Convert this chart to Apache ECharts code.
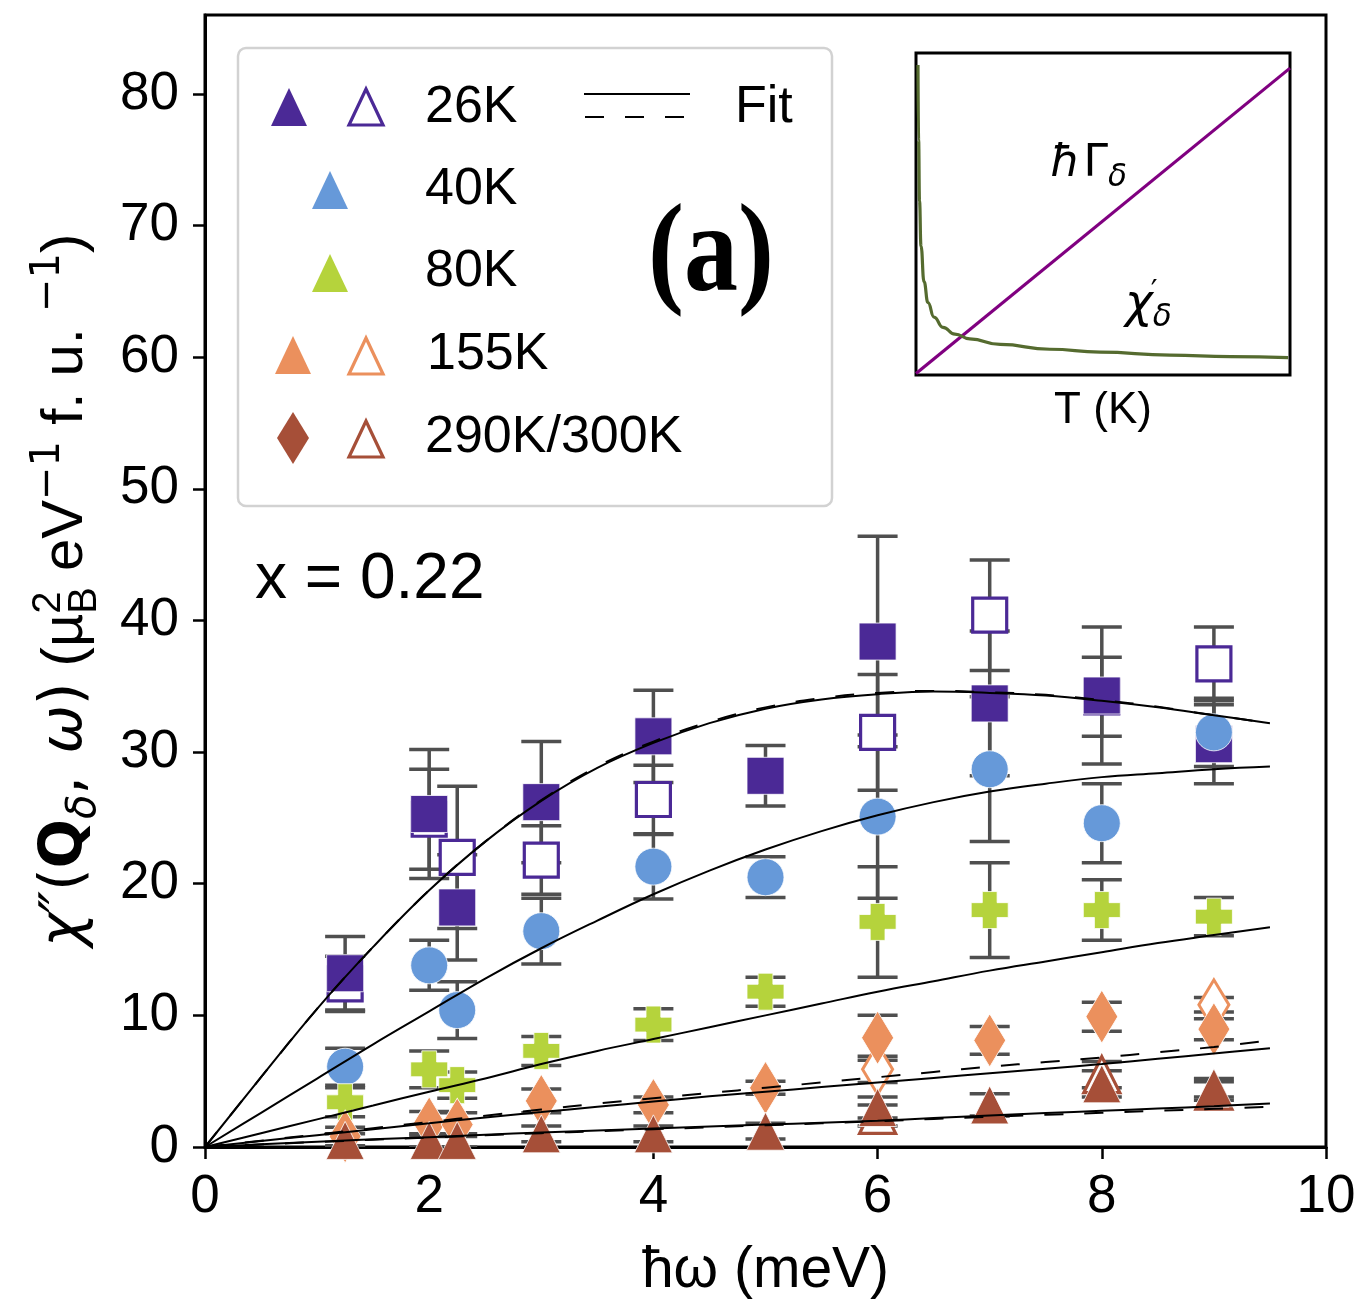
<!DOCTYPE html>
<html>
<head>
<meta charset="utf-8">
<script src="https://cdn.jsdelivr.net/npm/echarts@6/dist/echarts.min.js"></script>
<style>
  html, body { margin: 0; padding: 0; background: #fff; }
  #chart { width: 1363px; height: 1299px; }
</style>
</head>
<body>
<div id="chart"></div>
<script>
// ---- measured points: [ħω (meV), χ'' , error] ----
const k26Filled = [[1.25,13.2,2.8],[2,25.3,4.9],[2.25,18.2,4.0],[3,26.2,4.6],[4,31.2,3.5],[5,28.2,2.3],[6,38.4,8.0],[7,33.7,5.5],[8,34.3,5.2],[9,30.6,3.0]];
const k26Open   = [[1.25,12.4,2.1],[2,24.9,3.8],[2.25,22.0,5.4],[3,21.8,2.6],[4,26.4,2.6],[6,31.5,4.4],[7,40.4,4.2],[8,34.2,3.0],[9,36.7,2.8]];
const k40       = [[1.25,6.1,1.4],[2,13.8,1.9],[2.25,10.4,2.15],[3,16.4,2.5],[4,21.3,2.45],[5,20.5,1.55],[6,25.1,6.2],[7,28.7,5.5],[8,24.6,3.0],[9,31.5,2.6]];
const k80       = [[1.25,3.4,1.1],[2,5.9,1.4],[2.25,4.7,1.0],[3,7.3,1.1],[4,9.3,1.2],[5,11.8,1.1],[6,17.1,4.2],[7,18.0,3.6],[8,18.0,2.3],[9,17.5,1.45]];
const k155Filled = [[1.25,0.8,0.7],[2,1.8,0.9],[2.25,1.7,0.9],[3,3.5,0.9],[4,3.2,0.6],[5,4.5,0.5],[6,8.3,1.7],[7,8.1,1.05],[8,9.9,1.1],[9,8.95,0.8]];
const k155Open   = [[6,5.9,1.0],[9,10.8,0.55]];
const k290Filled = [[1.25,0.5,0.5],[2,0.5,0.5],[2.25,0.5,0.5],[3,1.0,0.6],[4,1.0,0.6],[5,1.2,0.6],[6,3.0,0.8],[7,3.2,0.85],[8,4.8,1.0],[9,4.5,0.7]];
const k290Open   = [[6,2.4,0.8],[8,5.5,1.0],[9,4.25,0.7]];

// ---- fit curves, sampled along ħω ----
const fitOmega = [0,0.5,1,1.5,2,2.5,3,3.5,4,4.5,5,5.5,6,6.5,7,7.5,8,8.5,9,9.5];
const fit26     = [0,5.3,10.5,15.2,19.5,23.2,26.3,28.8,30.7,32.2,33.3,34.0,34.4,34.6,34.5,34.3,33.9,33.4,32.8,32.2];
const fit26Dash = [0,5.3,10.5,15.2,19.5,23.2,26.35,28.9,30.8,32.3,33.4,34.1,34.5,34.65,34.55,34.35,33.95,33.45,32.8,32.2];
const fit40     = [0,2.6,5.2,7.8,10.3,12.8,15.1,17.2,19.2,21.0,22.6,24.0,25.2,26.2,27.0,27.6,28.1,28.4,28.7,28.9];
const fit80     = [0,1.05,2.1,3.15,4.2,5.2,6.3,7.3,8.2,9.1,10.0,10.9,11.8,12.6,13.4,14.1,14.8,15.5,16.1,16.7];
const fit155     = [0,0.45,0.9,1.35,1.8,2.25,2.65,3.05,3.45,3.85,4.2,4.55,4.9,5.25,5.6,5.95,6.3,6.7,7.1,7.5];
const fit155Dash = [0,0.48,0.95,1.43,1.9,2.38,2.85,3.3,3.7,4.1,4.5,4.9,5.3,5.7,6.1,6.45,6.8,7.2,7.6,8.1];
const fit290     = [0,0.2,0.4,0.58,0.75,0.93,1.1,1.25,1.4,1.55,1.7,1.85,2.0,2.2,2.4,2.58,2.75,2.92,3.1,3.3];
const fit290Dash = [0,0.19,0.38,0.55,0.72,0.89,1.05,1.2,1.35,1.5,1.65,1.8,1.95,2.13,2.3,2.45,2.6,2.75,2.9,3.05];

// ---- axis ticks ----
const xTicks = [0,2,4,6,8,10];
const yTicks = [0,10,20,30,40,50,60,70,80];

// ---- inset sketch (arbitrary units) ----
const insetGammaT = [0, 1];
const insetGamma  = [0.005, 0.953];
const insetChiT = [0.0053,0.007,0.0094,0.0134,0.0214,0.032,0.048,0.072,0.104,0.144,0.225,0.358,0.492,0.679,0.840,0.995];
const insetChi  = [0.963,0.730,0.540,0.400,0.290,0.225,0.180,0.148,0.127,0.112,0.095,0.080,0.071,0.062,0.057,0.054];

const C26 = '#4b2996', C40 = '#6699d9', C80 = '#b5d33c', C155 = '#eb905d', C290 = '#a64f38';
const ERR = '#4f4f4f';
const SANS = '"Liberation Sans", Arial, sans-serif';
const MATH = '"DejaVu Sans", sans-serif';
const PLUS = 'path://M0.3,0H0.7V0.3H1V0.7H0.7V1H0.3V0.7H0V0.3H0.3Z';

const chart = echarts.init(document.getElementById('chart'), null, { renderer: 'canvas' });

function errorBars(data, z) {
  return {
    type: 'custom', data: data, z: z, silent: true, clip: true,
    encode: { x: 0, y: 1 },
    renderItem: function (params, api) {
      const x = api.value(0), y = api.value(1), e = api.value(2);
      const top = api.coord([x, y + e]), bot = api.coord([x, y - e]);
      const hw = 20;
      const style = { stroke: ERR, lineWidth: 3.5 };
      return { type: 'group', children: [
        { type: 'line', shape: { x1: top[0], y1: top[1], x2: bot[0], y2: bot[1] }, style: style },
        { type: 'line', shape: { x1: top[0] - hw, y1: top[1], x2: top[0] + hw, y2: top[1] }, style: style },
        { type: 'line', shape: { x1: bot[0] - hw, y1: bot[1], x2: bot[0] + hw, y2: bot[1] }, style: style }
      ] };
    }
  };
}
function points(data, symbol, size, color, open, z) {
  return {
    type: 'scatter', z: z, silent: true,
    data: data.map(d => [d[0], d[1]]),
    symbol: symbol, symbolSize: size,
    itemStyle: open
      ? { color: '#fff', borderColor: color, borderWidth: 3.2, opacity: 1 }
      : { color: color, borderColor: '#fff', borderWidth: 0.8, opacity: 1 }
  };
}
function fitLine(vals, dashed) {
  return {
    type: 'line', z: 20, silent: true, smooth: 0.4, symbol: 'none',
    data: fitOmega.map((w, i) => [w, vals[i]]),
    lineStyle: { color: '#000', width: 2, type: dashed ? [19, 21] : 'solid' }
  };
}

// pieces of mixed-font text laid out along one baseline
const mctx = document.createElement('canvas').getContext('2d');
function textRun(pieces, x0, y0, rotation) {
  let x = 0;
  const children = [];
  let pendingStack = 0;
  pieces.forEach(p => {
    mctx.font = p.f;
    const w = mctx.measureText(p.t).width;
    const size = parseFloat(p.f.match(/(\d+(\.\d+)?)px/)[1]);
    children.push({
      type: 'text', x: x + (p.dx || 0), y: (p.dy || 0) - 0.35 * size, z: 80,
      style: { text: p.t, font: p.f, fill: '#000', align: 'left', verticalAlign: 'middle' }
    });
    if (p.stack) { pendingStack = w; }
    else { x += Math.max(w, pendingStack) + (p.gap || 0); pendingStack = 0; }
  });
  return { type: 'group', x: x0, y: y0, rotation: rotation || 0, children: children, z: 80 };
}

function tri(cx, cy, w, h, color, open) {
  return {
    type: 'polygon', z: 60,
    shape: { points: [[cx, cy - h / 2], [cx + w / 2, cy + h / 2], [cx - w / 2, cy + h / 2]] },
    style: open ? { fill: '#fff', stroke: color, lineWidth: 3.2 } : { fill: color }
  };
}
function legText(t, x, baseline) {
  return { type: 'text', z: 60, x: x, y: baseline - 0.35 * 52,
    style: { text: t, font: '52px ' + SANS, fill: '#000', align: 'left', verticalAlign: 'middle' } };
}

const yLabel = textRun([
  { t: 'χ', f: 'italic 58px ' + MATH },
  { t: '″', f: 'italic 58px ' + MATH },
  { t: '(', f: '58px ' + MATH },
  { t: 'Q', f: 'bold 58px ' + MATH },
  { t: 'δ', f: 'italic 40px ' + MATH, dy: 13 },
  { t: ', ', f: '58px ' + MATH, gap: 4 },
  { t: 'ω', f: 'italic 58px ' + MATH },
  { t: ')', f: '58px ' + MATH },
  { t: ' (µ', f: '58px ' + SANS },
  { t: 'B', f: '40px ' + SANS, dy: 13, stack: true },
  { t: '2', f: '40px ' + SANS, dy: -23 },
  { t: ' eV', f: '58px ' + SANS },
  { t: '−1', f: '40px ' + MATH, dy: -23 },
  { t: ' f. u. ', f: '58px ' + SANS },
  { t: '−1', f: '40px ' + MATH, dy: -23 },
  { t: ')', f: '58px ' + SANS }
], 86, 947, Math.PI / 2);

const gammaLabel = textRun([
  { t: 'ħ', f: 'italic 44px ' + MATH, gap: 3 },
  { t: 'Γ', f: '44px ' + MATH },
  { t: 'δ', f: 'italic 31px ' + MATH, dy: 9 }
], 1050, 180);
const chiLabel = textRun([
  { t: 'χ', f: 'italic 47px ' + MATH },
  { t: '′', f: '30px ' + MATH, dy: -17, dx: -2, stack: true },
  { t: 'δ', f: 'italic 31px ' + MATH, dy: 8 }
], 1125, 321);

const option = {
  animation: false,
  backgroundColor: '#fff',
  grid: [
    { left: 205, top: 15, right: 37, bottom: 152, show: true, borderColor: '#000', borderWidth: 3,
      backgroundColor: 'transparent', containLabel: false, outerBoundsMode: 'none' },
    { left: 916, top: 53, width: 374, height: 322, show: true, borderColor: '#000', borderWidth: 3,
      backgroundColor: 'transparent', containLabel: false, outerBoundsMode: 'none' }
  ],
  xAxis: [
    {
      gridIndex: 0, type: 'value', min: 0, max: 10, interval: 2,
      name: 'ħω (meV)', nameLocation: 'middle', nameGap: 96,
      nameTextStyle: { fontFamily: SANS, fontSize: 57, color: '#000' },
      axisLine: { show: true, lineStyle: { color: '#000', width: 3 } },
      axisTick: { show: true, inside: false, length: 12, lineStyle: { color: '#000', width: 2.5 }, customValues: xTicks },
      axisLabel: { show: true, margin: 24, fontFamily: SANS, fontSize: 53, color: '#000', customValues: xTicks },
      splitLine: { show: false }
    },
    {
      gridIndex: 1, type: 'value', min: 0, max: 1,
      name: 'T (K)', nameLocation: 'middle', nameGap: 14,
      nameTextStyle: { fontFamily: SANS, fontSize: 44, color: '#000' },
      axisLine: { show: false }, axisTick: { show: false }, axisLabel: { show: false }, splitLine: { show: false }
    }
  ],
  yAxis: [
    {
      gridIndex: 0, type: 'value', min: 0, max: 86, interval: 10,
      axisLine: { show: true, lineStyle: { color: '#000', width: 3 } },
      axisTick: { show: true, inside: false, length: 12, lineStyle: { color: '#000', width: 2.5 }, customValues: yTicks },
      axisLabel: { show: true, margin: 26, fontFamily: SANS, fontSize: 53, color: '#000', customValues: yTicks },
      splitLine: { show: false }
    },
    {
      gridIndex: 1, type: 'value', min: 0, max: 1,
      axisLine: { show: false }, axisTick: { show: false }, axisLabel: { show: false }, splitLine: { show: false }
    }
  ],
  series: [
    errorBars(k26Open, 2), errorBars(k26Filled, 2), errorBars(k40, 2), errorBars(k80, 2),
    errorBars(k155Open, 2), errorBars(k155Filled, 2), errorBars(k290Open, 2), errorBars(k290Filled, 2),
    points(k26Open, 'rect', 34, C26, true, 3),
    points(k26Filled, 'rect', 37, C26, false, 4),
    points(k40, 'circle', 37, C40, false, 5),
    points(k80, PLUS, 37, C80, false, 6),
    points(k155Open, 'diamond', [30, 50], C155, true, 7),
    points(k155Filled, 'diamond', [32, 53], C155, false, 8),
    points(k290Open, 'triangle', [36, 36], C290, true, 9),
    points(k290Filled, 'triangle', [38, 38], C290, false, 10),
    fitLine(fit26, false), fitLine(fit26Dash, true),
    fitLine(fit40, false), fitLine(fit80, false),
    fitLine(fit155, false), fitLine(fit155Dash, true),
    fitLine(fit290, false), fitLine(fit290Dash, true),
    {
      type: 'line', xAxisIndex: 1, yAxisIndex: 1, z: 31, silent: true, symbol: 'none',
      data: insetGammaT.map((t, i) => [t, insetGamma[i]]),
      lineStyle: { color: '#800080', width: 3.2 }
    },
    {
      type: 'line', xAxisIndex: 1, yAxisIndex: 1, z: 31, silent: true, symbol: 'none',
      smooth: 0.5, smoothMonotone: 'x',
      data: insetChiT.map((t, i) => [t, insetChi[i]]),
      lineStyle: { color: '#556b2f', width: 3.2 }
    }
  ],
  graphic: [
    yLabel,
    { type: 'text', z: 50, x: 255, y: 603 - 0.35 * 64,
      style: { text: 'x = 0.22', font: '64px ' + SANS, fill: '#000', align: 'left', verticalAlign: 'middle' } },
    // legend frame
    { type: 'rect', z: 55, shape: { x: 238, y: 48, width: 594, height: 458, r: 8 },
      style: { fill: 'rgba(255,255,255,0.85)', stroke: '#d2d2d2', lineWidth: 2.5 } },
    tri(289, 107, 36, 38, C26, false), tri(366, 107, 34, 36, C26, true), legText('26K', 425, 126),
    { type: 'line', z: 60, shape: { x1: 584, y1: 94, x2: 690, y2: 94 }, style: { stroke: '#000', lineWidth: 2 } },
    { type: 'line', z: 60, shape: { x1: 585, y1: 117, x2: 690, y2: 117 }, style: { stroke: '#000', lineWidth: 2, lineDash: [19, 21] } },
    legText('Fit', 735, 126),
    tri(330, 190, 36, 38, C40, false), legText('40K', 425, 208),
    tri(330, 273, 36, 38, C80, false), legText('80K', 425, 290),
    tri(293, 355, 36, 38, C155, false), tri(366, 356, 34, 36, C155, true), legText('155K', 427, 373),
    { type: 'polygon', z: 60, shape: { points: [[293, 412], [309, 438], [293, 464], [277, 438]] }, style: { fill: C290 } },
    tri(366, 439, 34, 36, C290, true), legText('290K/300K', 425, 456),
    { type: 'text', z: 60, x: 648, y: 258, scaleY: 1.15, originX: 0, originY: 0,
      style: { text: '(a)', font: 'bold 108px "Liberation Serif", serif', fill: '#000', align: 'left', verticalAlign: 'middle' } },
    gammaLabel, chiLabel
  ]
};
chart.setOption(option);
</script>
</body>
</html>
